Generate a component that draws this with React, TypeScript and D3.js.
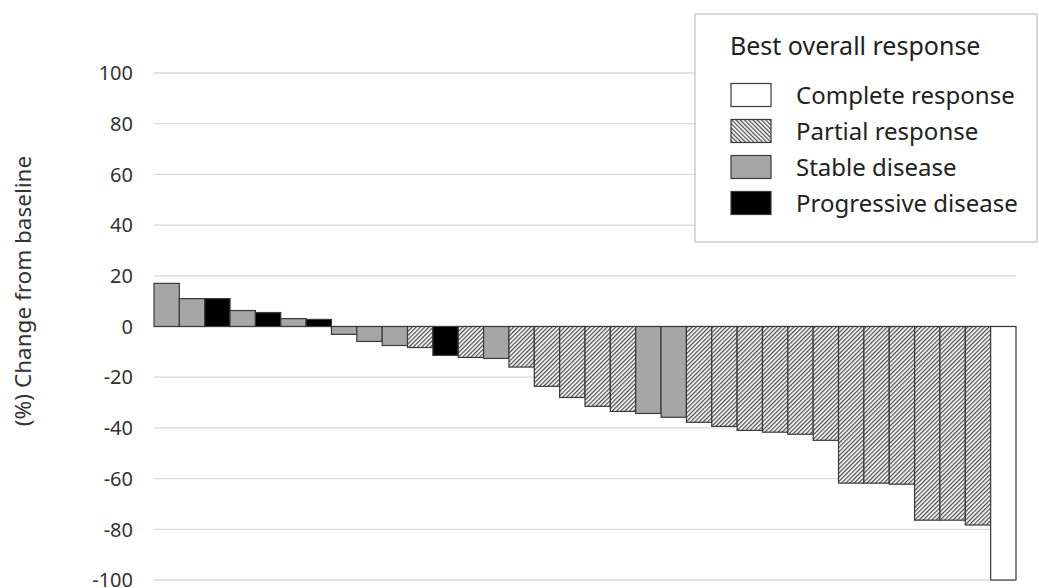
import React from "react";
import * as d3 from "d3";

const responses: string[] = [
  "SD", "SD", "PD", "SD", "PD", "SD", "PD", "SD", "SD", "SD",
  "PR", "PD", "PR", "SD", "PR", "PR", "PR", "PR", "PR", "SD",
  "SD", "PR", "PR", "PR", "PR", "PR", "PR", "PR", "PR", "PR",
  "PR", "PR", "PR", "CR",
];
const changes: number[] = [
  17, 11, 11, 6.3, 5.5, 3.1, 2.8, -3.1, -5.9, -7.5,
  -8.3, -11.4, -12.2, -12.6, -16, -23.6, -28, -31.5, -33.5, -34.3,
  -35.8, -37.8, -39.4, -41, -41.7, -42.5, -44.9, -61.8, -61.8, -62.2,
  -76.4, -76.4, -78.3, -100,
];
const yTicks: number[] = [100, 80, 60, 40, 20, 0, -20, -40, -60, -80, -100];
const legendKeys: string[] = ["CR", "PR", "SD", "PD"];
const legendLabels: string[] = ["Complete response", "Partial response", "Stable disease", "Progressive disease"];
const legendTitle = "Best overall response";
const yTitle = "(%) Change from baseline";

const W = 1039;
const H = 588;
const FONT = "'Noto Sans', 'Open Sans', sans-serif";

function fillFor(k: string, legend = false): string {
  if (k === "CR") return "#ffffff";
  if (k === "PR") return legend ? "url(#hatchL)" : "url(#hatch)";
  if (k === "SD") return "#a6a6a6";
  return "#000000";
}

export default function App() {
  const x = d3
    .scaleBand<number>()
    .domain(changes.map((_, i) => i))
    .range([154, 1016])
    .padding(0);
  const y = d3.scaleLinear().domain([-100, 100]).range([580, 73]);

  return (
    <svg width={W} height={H} style={{ position: "absolute", left: 0, top: 0, background: "#fff" }}>
      <defs>
        <pattern id="hatch" patternUnits="userSpaceOnUse" width={3} height={3} patternTransform="rotate(45)">
          <rect width={3} height={3} fill="#ffffff" />
          <line x1={0.6} y1={0} x2={0.6} y2={3} stroke="#4a4a4a" strokeWidth={1.3} />
        </pattern>
        <pattern id="hatchL" patternUnits="userSpaceOnUse" width={3} height={3} patternTransform="rotate(-45)">
          <rect width={3} height={3} fill="#ffffff" />
          <line x1={0.6} y1={0} x2={0.6} y2={3} stroke="#4a4a4a" strokeWidth={1.3} />
        </pattern>
      </defs>
      <rect x={0} y={0} width={W} height={H} fill="#fff" />
      {yTicks.map((t) => (
        <line key={"g" + t} x1={154} x2={1016} y1={y(t)} y2={y(t)} stroke="#d9d9d9" strokeWidth={1.3} />
      ))}
      {yTicks.map((t) => (
        <text
          key={"t" + t}
          x={133}
          y={y(t)}
          dy="0.36em"
          textAnchor="end"
          fontFamily={FONT}
          fontSize={20}
          fill="#333"
        >
          {t}
        </text>
      ))}
      <text
        transform={`translate(31, 291) rotate(-90)`}
        textAnchor="middle"
        fontFamily={FONT}
        fontSize={22.5}
        fill="#333"
      >
        {yTitle}
      </text>
      {changes.map((v, i) => {
        const y0 = y(0);
        const y1 = y(v);
        return (
          <rect
            key={"b" + i}
            x={x(i)!}
            y={Math.min(y0, y1)}
            width={x.bandwidth()}
            height={Math.abs(y1 - y0)}
            fill={fillFor(responses[i])}
            stroke="#3a3a3a"
            strokeWidth={1.2}
          />
        );
      })}
      <rect x={695} y={14} width={342} height={228} fill="#fff" stroke="#bfbfbf" strokeWidth={1.2} />
      <text x={730} y={55} fontFamily={FONT} fontSize={25} fill="#222">
        {legendTitle}
      </text>
      {legendKeys.map((k, i) => {
        const cy = 95 + i * 36;
        return (
          <g key={"l" + k}>
            <rect
              x={731}
              y={cy - 11.5}
              width={40}
              height={23}
              fill={fillFor(k, true)}
              stroke="#3a3a3a"
              strokeWidth={1.2}
            />
            <text x={796} y={cy} dy="0.36em" fontFamily={FONT} fontSize={24} fill="#222">
              {legendLabels[i]}
            </text>
          </g>
        );
      })}
    </svg>
  );
}
